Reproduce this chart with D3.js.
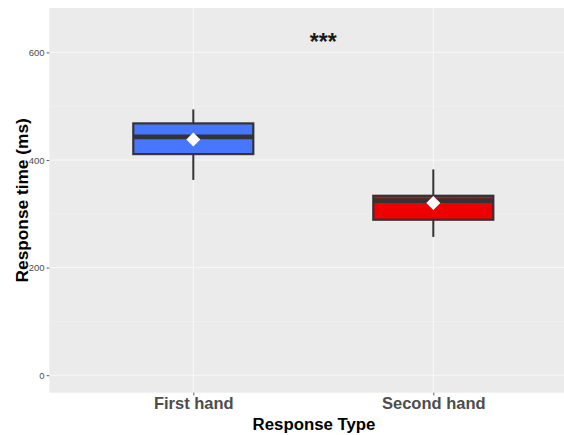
<!DOCTYPE html>
<html>
<head>
<meta charset="utf-8">
<script src="https://cdn.jsdelivr.net/npm/d3@7"></script>
<style>
  html, body { margin: 0; padding: 0; background: #ffffff; }
  svg { display: block; font-family: "Liberation Sans", Arial, Helvetica, sans-serif; }
</style>
</head>
<body>
<svg id="chart" width="564" height="435"></svg>
<script>
// Response-time summary per response type
const categories = ["First hand", "Second hand"];
const lowerWhisker = [363, 257];
const q1 = [411, 289];
const median = [443, 324.5];
const q3 = [468, 333.5];
const upperWhisker = [494, 382.5];
const means = [438, 320];
const fills = ["#4877FF", "#EE0000"];
const yTicks = [0, 200, 400, 600];
const yMinor = [100, 300, 500];
const yLimits = [0, 650];
const significance = "***";

const svg = d3.select("#chart");

// panel geometry (extends past the right edge, clipped by the svg)
const panel = { left: 49.3, right: 577.3, top: 8, bottom: 392.7 };

const span = yLimits[1] - yLimits[0];
const y = d3.scaleLinear()
  .domain([yLimits[0] - span * 0.05, yLimits[1] + span * 0.05])
  .range([panel.bottom, panel.top]);

const x = d3.scaleBand()
  .domain(categories)
  .range([panel.left, panel.right])
  .paddingInner(0)
  .paddingOuter(0.1);
const cx = c => x(c) + x.bandwidth() / 2;
const boxW = x.step() * 0.5;

// panel background
svg.append("rect")
  .attr("x", panel.left).attr("y", panel.top)
  .attr("width", panel.right - panel.left)
  .attr("height", panel.bottom - panel.top)
  .attr("fill", "#EBEBEB");

// grid
const grid = svg.append("g");
grid.selectAll(".minor").data(yMinor).join("line")
  .attr("x1", panel.left).attr("x2", panel.right)
  .attr("y1", d => y(d)).attr("y2", d => y(d))
  .attr("stroke", "#F3F3F3").attr("stroke-width", 0.6);
grid.selectAll(".major").data(yTicks).join("line")
  .attr("x1", panel.left).attr("x2", panel.right)
  .attr("y1", d => y(d)).attr("y2", d => y(d))
  .attr("stroke", "#F8F8F8").attr("stroke-width", 1);
grid.selectAll(".vmajor").data(categories).join("line")
  .attr("x1", d => cx(d)).attr("x2", d => cx(d))
  .attr("y1", panel.top).attr("y2", panel.bottom)
  .attr("stroke", "#F8F8F8").attr("stroke-width", 1);

// y axis
const yAxis = svg.append("g")
  .attr("transform", `translate(${panel.left},0)`)
  .call(d3.axisLeft(y).tickValues(yTicks).tickSize(2.75).tickPadding(2));
yAxis.select(".domain").remove();
yAxis.selectAll(".tick line").attr("stroke", "#333333").attr("stroke-width", 0.8);
yAxis.selectAll(".tick text")
  .attr("fill", "#4D4D4D").attr("font-size", "9.5px")
  .attr("font-family", "Liberation Sans, Arial, sans-serif");

// x axis
const xPoint = d3.scalePoint()
  .domain(categories)
  .range([cx(categories[0]), cx(categories[1])]);
const xAxis = svg.append("g")
  .attr("transform", `translate(0,${panel.bottom})`)
  .call(d3.axisBottom(xPoint).tickSize(2.75).tickPadding(2));
xAxis.select(".domain").remove();
xAxis.selectAll(".tick line").attr("stroke", "#333333").attr("stroke-width", 0.8);
xAxis.selectAll(".tick text")
  .attr("fill", "#4D4D4D").attr("font-size", "16.5px").attr("font-weight", "bold")
  .attr("font-family", "Liberation Sans, Arial, sans-serif");

// boxes
const data = categories.map((c, i) => ({
  c, lo: lowerWhisker[i], q1: q1[i], med: median[i], q3: q3[i], hi: upperWhisker[i],
  mean: means[i], fill: fills[i]
}));

const boxes = svg.append("g").selectAll("g").data(data).join("g");
boxes.append("line")
  .attr("x1", d => cx(d.c)).attr("x2", d => cx(d.c))
  .attr("y1", d => y(d.q3)).attr("y2", d => y(d.hi))
  .attr("stroke", "#333333").attr("stroke-width", 2);
boxes.append("line")
  .attr("x1", d => cx(d.c)).attr("x2", d => cx(d.c))
  .attr("y1", d => y(d.q1)).attr("y2", d => y(d.lo))
  .attr("stroke", "#333333").attr("stroke-width", 2);
boxes.append("rect")
  .attr("x", d => cx(d.c) - boxW / 2).attr("width", boxW)
  .attr("y", d => y(d.q3)).attr("height", d => y(d.q1) - y(d.q3))
  .attr("fill", d => d.fill)
  .attr("stroke", "#333333").attr("stroke-width", 2.2);
boxes.append("line")
  .attr("x1", d => cx(d.c) - boxW / 2).attr("x2", d => cx(d.c) + boxW / 2)
  .attr("y1", d => y(d.med)).attr("y2", d => y(d.med))
  .attr("stroke", "#333333").attr("stroke-width", 4.6);
boxes.append("path")
  .attr("transform", d => `translate(${cx(d.c)},${y(d.mean)})`)
  .attr("d", "M0,-7L7,0L0,7L-7,0Z")
  .attr("fill", "#FFFFFF");

// significance marker
svg.append("text")
  .attr("x", (cx(categories[0]) + cx(categories[1])) / 2 + 10)
  .attr("y", 50)
  .attr("text-anchor", "middle")
  .attr("font-size", "23px").attr("font-weight", "bold").attr("fill", "#1A1A1A")
  .text(significance);

// axis titles
svg.append("text")
  .attr("x", 314).attr("y", 430)
  .attr("text-anchor", "middle")
  .attr("font-size", "16.8px").attr("font-weight", "bold").attr("fill", "#000000")
  .text("Response Type");
svg.append("text")
  .attr("transform", `translate(27.5,${(panel.top + panel.bottom) / 2}) rotate(-90)`)
  .attr("text-anchor", "middle")
  .attr("font-size", "17.3px").attr("font-weight", "bold").attr("fill", "#000000")
  .text("Response time (ms)");
</script>
</body>
</html>
